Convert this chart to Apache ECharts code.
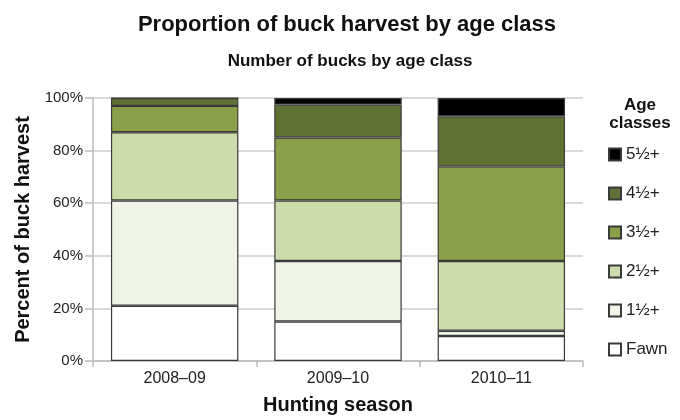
<!DOCTYPE html>
<html><head><meta charset="utf-8">
<script src="https://cdn.jsdelivr.net/npm/echarts@6/dist/echarts.min.js"></script>
<style>html,body{margin:0;padding:0;background:#fff}#c{width:680px;height:420px}</style>
</head><body><div id="c"></div>
<script>
const categories = ['2008–09', '2009–10', '2010–11'];
const seriesNames = ['Fawn', '1½+', '2½+', '3½+', '4½+', '5½+'];
const fawn = [21, 15, 9.5];
const yr1 = [40, 23, 2];
const yr2 = [26, 23, 26.5];
const yr3 = [10, 24, 36];
const yr4 = [3, 12.5, 19];
const yr5 = [0, 2.5, 7];
const yTicks = [0, 20, 40, 60, 80, 100];

const values = [fawn, yr1, yr2, yr3, yr4, yr5];
const colors = ['#ffffff', '#f0f4e6', '#cddcab', '#8a9f4a', '#5f7134', '#000000'];
const FONT = 'Liberation Sans';

const chart = echarts.init(document.getElementById('c'));
chart.setOption({
  animation: false,
  backgroundColor: '#fff',
  textStyle: { fontFamily: FONT },
  title: [
    { text: 'Proportion of buck harvest by age class', left: 342, top: 9, textAlign: 'center',
      textStyle: { fontFamily: FONT, fontSize: 22, fontWeight: 'bold', color: '#111' } },
    { text: 'Number of bucks by age class', left: 345, top: 48, textAlign: 'center',
      textStyle: { fontFamily: FONT, fontSize: 17, fontWeight: 'bold', color: '#111' } },
    { text: 'Age\nclasses', left: 635, top: 91, textAlign: 'center',
      textStyle: { fontFamily: FONT, fontSize: 17, fontWeight: 'bold', color: '#111', lineHeight: 18, align: 'center' } }
  ],
  legend: {
    orient: 'vertical', left: 603, top: 141,
    data: seriesNames.slice().reverse(),
    itemWidth: 12, itemHeight: 12, itemGap: 22,
    icon: 'rect',
    textStyle: { fontFamily: FONT, fontSize: 17, color: '#222', lineHeight: 17 }
  },
  grid: { left: 93, right: 97, top: 98, bottom: 57 },
  xAxis: {
    type: 'category', data: categories,
    name: 'Hunting season', nameLocation: 'middle', nameGap: 34,
    nameTextStyle: { fontFamily: FONT, fontSize: 20, fontWeight: 'bold', color: '#111' },
    axisLine: { lineStyle: { color: '#bbbbbb', width: 1.5 } },
    axisTick: { show: true, length: 6, lineStyle: { color: '#bbbbbb', width: 1.5 } },
    axisLabel: { fontFamily: FONT, fontSize: 16, color: '#222', margin: 10 }
  },
  yAxis: {
    type: 'value', min: 0, max: 100, interval: 20,
    name: 'Percent of buck harvest', nameLocation: 'middle', nameGap: 60,
    nameTextStyle: { fontFamily: FONT, fontSize: 20, fontWeight: 'bold', color: '#111' },
    axisLine: { show: true, lineStyle: { color: '#bbbbbb', width: 1.5 } },
    axisTick: { show: true, length: 8, lineStyle: { color: '#bbbbbb', width: 1.5 } },
    splitLine: { lineStyle: { color: '#cccccc', width: 1.5 } },
    axisLabel: { fontFamily: FONT, fontSize: 15, color: '#222', margin: 10,
      formatter: v => yTicks.includes(v) ? v + '%' : '' }
  },
  series: seriesNames.map((n, i) => ({
    name: n, type: 'bar', stack: 'total',
    barCategoryGap: '22%',
    data: values[i],
    itemStyle: { color: colors[i], borderColor: '#3a3a3a', borderWidth: 1.2 }
  }))
});
</script></body></html>
